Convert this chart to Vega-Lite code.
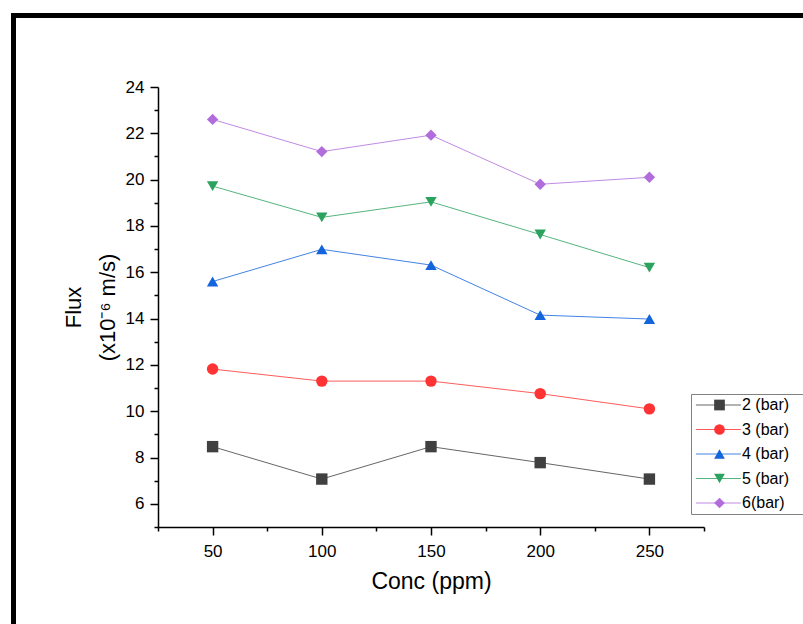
{
  "$schema": "https://vega.github.io/schema/vega-lite/v6.json",
  "width": 546,
  "height": 440,
  "autosize": {"type": "none"},
  "padding": {"left": 158, "top": 87, "right": 99, "bottom": 97},
  "background": "white",
  "config": {"view": {"stroke": null}, "font": "Liberation Sans"},
  "data": {"values": [
    {"conc": 50, "flux": 8.47, "series": "2 (bar)"},
    {"conc": 100, "flux": 7.07, "series": "2 (bar)"},
    {"conc": 150, "flux": 8.47, "series": "2 (bar)"},
    {"conc": 200, "flux": 7.78, "series": "2 (bar)"},
    {"conc": 250, "flux": 7.07, "series": "2 (bar)"},
    {"conc": 50, "flux": 11.82, "series": "3 (bar)"},
    {"conc": 100, "flux": 11.3, "series": "3 (bar)"},
    {"conc": 150, "flux": 11.3, "series": "3 (bar)"},
    {"conc": 200, "flux": 10.76, "series": "3 (bar)"},
    {"conc": 250, "flux": 10.1, "series": "3 (bar)"},
    {"conc": 50, "flux": 15.6, "series": "4 (bar)"},
    {"conc": 100, "flux": 16.99, "series": "4 (bar)"},
    {"conc": 150, "flux": 16.31, "series": "4 (bar)"},
    {"conc": 200, "flux": 14.15, "series": "4 (bar)"},
    {"conc": 250, "flux": 13.98, "series": "4 (bar)"},
    {"conc": 50, "flux": 19.72, "series": "5 (bar)"},
    {"conc": 100, "flux": 18.37, "series": "5 (bar)"},
    {"conc": 150, "flux": 19.04, "series": "5 (bar)"},
    {"conc": 200, "flux": 17.63, "series": "5 (bar)"},
    {"conc": 250, "flux": 16.2, "series": "5 (bar)"},
    {"conc": 50, "flux": 22.6, "series": "6(bar)"},
    {"conc": 100, "flux": 21.21, "series": "6(bar)"},
    {"conc": 150, "flux": 21.92, "series": "6(bar)"},
    {"conc": 200, "flux": 19.8, "series": "6(bar)"},
    {"conc": 250, "flux": 20.1, "series": "6(bar)"}
  ]},
  "encoding": {
    "x": {
      "field": "conc", "type": "quantitative",
      "scale": {"domain": [25, 275]},
      "axis": {
        "values": [25, 50, 75, 100, 125, 150, 175, 200, 225, 250, 275],
        "labelExpr": "datum.value % 50 === 0 ? datum.label : ''",
        "tickSize": {"condition": {"test": "datum.value % 50 === 0", "value": 8}, "value": 4},
        "tickWidth": 1.5, "tickColor": "black", "domainColor": "black", "domainWidth": 1.5,
        "labelFontSize": 17, "labelColor": "black", "labelPadding": 8,
        "labelFlush": false, "labelOverlap": false, "grid": false,
        "title": "Conc (ppm)", "titleFontSize": 23, "titleFontWeight": "normal",
        "titleColor": "black", "titlePadding": 11
      }
    },
    "y": {
      "field": "flux", "type": "quantitative",
      "scale": {"domain": [5, 24]},
      "axis": {
        "values": [5, 6, 7, 8, 9, 10, 11, 12, 13, 14, 15, 16, 17, 18, 19, 20, 21, 22, 23, 24],
        "labelExpr": "datum.value % 2 === 0 ? datum.label : ''",
        "tickSize": {"condition": {"test": "datum.value % 2 === 0", "value": 8}, "value": 4},
        "tickWidth": 1.5, "tickColor": "black", "domainColor": "black", "domainWidth": 1.5,
        "labelFontSize": 17, "labelColor": "black", "labelPadding": 6,
        "labelFlush": false, "labelOverlap": false, "grid": false,
        "title": ["Flux", "(x10⁻⁶ m/s)"], "titleFontSize": 22, "titleFontWeight": "normal",
        "titleColor": "black", "titleLineHeight": 34, "titlePadding": 6
      }
    }
  },
  "layer": [
    {
      "mark": {"type": "rect", "fill": "transparent", "stroke": "black", "strokeWidth": 4, "clip": false},
      "encoding": {
        "x": {"datum": -41},
        "x2": {"datum": 340},
        "y": {"datum": 27.1},
        "y2": {"datum": -2}
      }
    },
    {
      "mark": {"type": "line", "strokeWidth": 1, "opacity": 0.8},
      "encoding": {
        "stroke": {
          "field": "series", "type": "nominal",
          "scale": {
            "domain": ["2 (bar)", "3 (bar)", "4 (bar)", "5 (bar)", "6(bar)"],
            "range": ["#404040", "#ff3333", "#1464dc", "#2ba25e", "#b26ddd"]
          },
          "legend": {
            "orient": "none", "legendX": 533, "legendY": 307, "title": null,
            "symbolType": "M-4,0L4,0", "symbolSize": 126.5, "symbolStrokeWidth": 1,
            "symbolOffset": 16.4,
            "padding": 3, "rowPadding": 8.5,
            "labelFont": "Liberation Sans", "labelFontSize": 16, "labelColor": "black",
            "labelExpr": "' '", "labelOffset": 140, "labelLimit": 300,
            "strokeColor": "#808080"
          }
        }
      }
    },
    {
      "mark": {"type": "point", "filled": true, "size": 130, "opacity": 1},
      "encoding": {
        "fill": {
          "field": "series", "type": "nominal",
          "scale": {"range": ["#404040", "#ff3333", "#1464dc", "#2ba25e", "#b26ddd"]},
          "legend": {
            "orient": "none", "legendX": 550.5, "legendY": 307, "title": null,
            "symbolSize": 115, "symbolStrokeWidth": 0,
            "padding": 3, "rowPadding": 8.5,
            "labelFont": "Liberation Sans", "labelFontSize": 16, "labelColor": "black",
            "labelOffset": 14.5
          }
        },
        "shape": {
          "field": "series", "type": "nominal",
          "scale": {"range": ["square", "circle", "triangle-up", "triangle-down", "diamond"]},
          "legend": {
            "orient": "none", "legendX": 550.5, "legendY": 307, "title": null,
            "symbolSize": 115, "symbolStrokeWidth": 0,
            "padding": 3, "rowPadding": 8.5,
            "labelFont": "Liberation Sans", "labelFontSize": 16, "labelColor": "black",
            "labelOffset": 14.5
          }
        }
      }
    }
  ]
}
